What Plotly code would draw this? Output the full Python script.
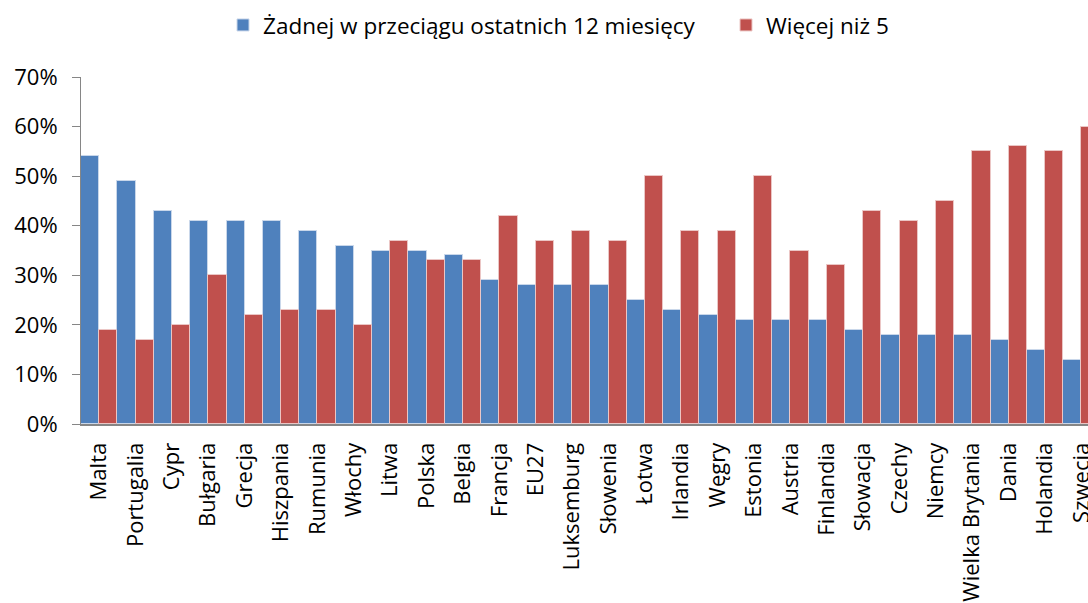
import plotly.graph_objects as go

categories = ["Malta", "Portugalia", "Cypr", "Bułgaria", "Grecja", "Hiszpania", "Rumunia",
              "Włochy", "Litwa", "Polska", "Belgia", "Francja", "EU27", "Luksemburg",
              "Słowenia", "Łotwa", "Irlandia", "Węgry", "Estonia", "Austria", "Finlandia",
              "Słowacja", "Czechy", "Niemcy", "Wielka Brytania", "Dania", "Holandia", "Szwecja"]
none_12m = [54, 49, 43, 41, 41, 41, 39, 36, 35, 35, 34, 29, 28, 28, 28, 25, 23, 22, 21, 21, 21,
            19, 18, 18, 18, 17, 15, 13]
more_than_5 = [19, 17, 20, 30, 22, 23, 23, 20, 37, 33, 33, 42, 37, 39, 37, 50, 39, 39, 50, 35, 32,
               43, 41, 45, 55, 56, 55, 60]
series_names = ["Żadnej w przeciągu ostatnich 12 miesięcy", "Więcej niż 5"]

FONT = "Open Sans"
fig = go.Figure()
fig.add_trace(go.Bar(x=categories, y=[v / 100 for v in none_12m], name=series_names[0],
                     legend="legend",
                     marker=dict(color="#4F81BD", line=dict(color="#C9D7EA", width=1))))
fig.add_trace(go.Bar(x=categories, y=[v / 100 for v in more_than_5], name=series_names[1],
                     legend="legend2",
                     marker=dict(color="#C0504D", line=dict(color="#EBC6C5", width=1))))

legend_common = dict(orientation="h", xanchor="left", xref="container",
                     y=0.958, yanchor="middle", yref="container",
                     font=dict(family=FONT, size=22.5), bgcolor="rgba(0,0,0,0)")

fig.update_layout(
    width=1088, height=603,
    margin=dict(l=81, r=0, t=77, b=179),
    paper_bgcolor="white", plot_bgcolor="white",
    barmode="group", bargap=0, bargroupgap=0,
    font=dict(family=FONT, size=20, color="#000000"),
    showlegend=True,
    legend=dict(x=223 / 1088, **legend_common),
    legend2=dict(x=726 / 1088, **legend_common),
    xaxis=dict(type="category", range=[-0.5, 27.18], tickangle=-90, showgrid=False,
               showline=True, linecolor="#868686", linewidth=2, ticks="", automargin=False,
               ticklabelstandoff=8, tickfont=dict(family=FONT, size=22)),
    yaxis=dict(range=[0, 0.7], dtick=0.1, tickformat=".0%", showgrid=False, zeroline=False,
               showline=True, linecolor="#868686", linewidth=1, ticks="outside",
               ticklen=8, tickcolor="#868686", automargin=False, ticklabelstandoff=10,
               tickfont=dict(family=FONT, size=22)),
)
fig.write_html("out.html", config={"displayModeBar": False},
               post_script="document.body.style.margin='0';document.body.style.overflow='hidden';")
